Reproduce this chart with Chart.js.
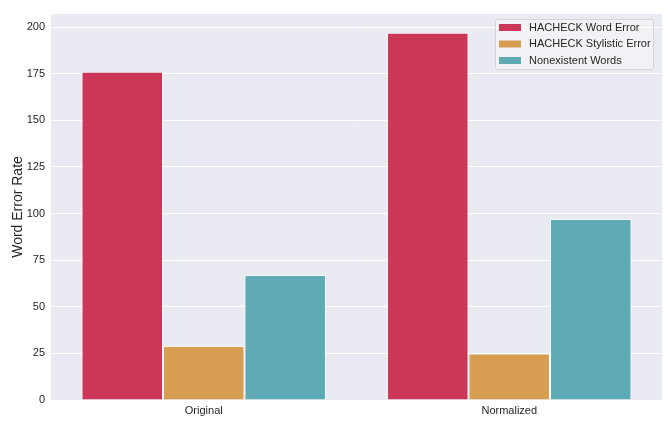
<!DOCTYPE html>
<html>
<head>
<meta charset="utf-8">
<script src="https://cdn.jsdelivr.net/npm/chart.js@4/dist/chart.umd.min.js"></script>
<style>
  html, body { margin: 0; padding: 0; background: #fff; }
  #wrap { width: 668px; height: 426px; position: relative; }
</style>
</head>
<body>
<div id="wrap"><canvas id="c"></canvas></div>
<script>
// data
const categories = ['Original', 'Normalized'];
const seriesNames = ['HACHECK Word Error', 'HACHECK Stylistic Error', 'Nonexistent Words'];
const wordError = [176, 197];
const stylisticError = [29, 25];
const nonexistentWords = [67, 97];
const yTicks = [0, 25, 50, 75, 100, 125, 150, 175, 200];

const COLORS = ['#cc3758', '#d79e51', '#5fabb5'];
const FONT = { family: "Arial, 'Liberation Sans', sans-serif", size: 11 };

// plot background + legend drawn inside the axes, seaborn style
const seabornBg = {
  id: 'seabornBg',
  beforeDraw(chart) {
    const { ctx, chartArea: a } = chart;
    ctx.save();
    ctx.fillStyle = '#eaeaf2';
    ctx.fillRect(a.left, a.top, a.right - a.left, a.bottom - a.top);
    ctx.restore();
  },
  afterDraw(chart) {
    const { ctx, chartArea: a } = chart;
    const ds = chart.data.datasets;
    const w = 158, h = 50;
    const x = a.right - w - 9, y = a.top + 5;
    ctx.save();
    ctx.fillStyle = 'rgba(255,255,255,0.35)';
    ctx.strokeStyle = '#d4d4dc';
    ctx.lineWidth = 1;
    ctx.beginPath();
    ctx.roundRect(x + 0.5, y + 0.5, w, h, 2);
    ctx.fill();
    ctx.stroke();
    ctx.font = `${FONT.size}px ${FONT.family}`;
    ctx.textBaseline = 'middle';
    ds.forEach((d, i) => {
      const ry = y + 8.5 + i * 16.5;
      ctx.fillStyle = d.backgroundColor;
      ctx.fillRect(x + 4, ry - 3.5, 22, 7);
      ctx.fillStyle = '#262626';
      ctx.fillText(d.label, x + 34, ry);
    });
    ctx.restore();
  }
};

new Chart(document.getElementById('c'), {
  type: 'bar',
  data: {
    labels: categories,
    datasets: [
      { label: seriesNames[0], data: wordError, backgroundColor: COLORS[0] },
      { label: seriesNames[1], data: stylisticError, backgroundColor: COLORS[1] },
      { label: seriesNames[2], data: nonexistentWords, backgroundColor: COLORS[2] }
    ].map(d => ({ ...d, borderColor: 'rgba(255,255,255,0.7)', borderWidth: 1,
                  barPercentage: 1, categoryPercentage: 0.8 }))
  },
  options: {
    responsive: true,
    maintainAspectRatio: false,
    animation: false,
    layout: { padding: { top: 14, right: 6, left: 0, bottom: 0 } },
    plugins: {
      legend: { display: false },
      tooltip: { enabled: false }
    },
    scales: {
      x: {
        grid: { display: false, drawTicks: false },
        border: { display: false },
        ticks: { color: '#262626', font: FONT, padding: 4 },
        afterFit: s => { s.height = 26; }
      },
      y: {
        min: 0,
        max: 207,
        ticks: { color: '#262626', font: FONT, stepSize: 25, padding: 6 },
        afterBuildTicks: s => { s.ticks = yTicks.map(v => ({ value: v })); },
        grid: { color: '#ffffff', lineWidth: 1, drawTicks: false },
        border: { display: false },
        title: {
          display: true,
          text: 'Word Error Rate',
          color: '#262626',
          font: { family: FONT.family, size: 14 },
          padding: { top: 10, bottom: 0 }
        },
        afterFit: s => { s.width = 51; }
      }
    }
  },
  plugins: [seabornBg]
});
</script>
</body>
</html>
